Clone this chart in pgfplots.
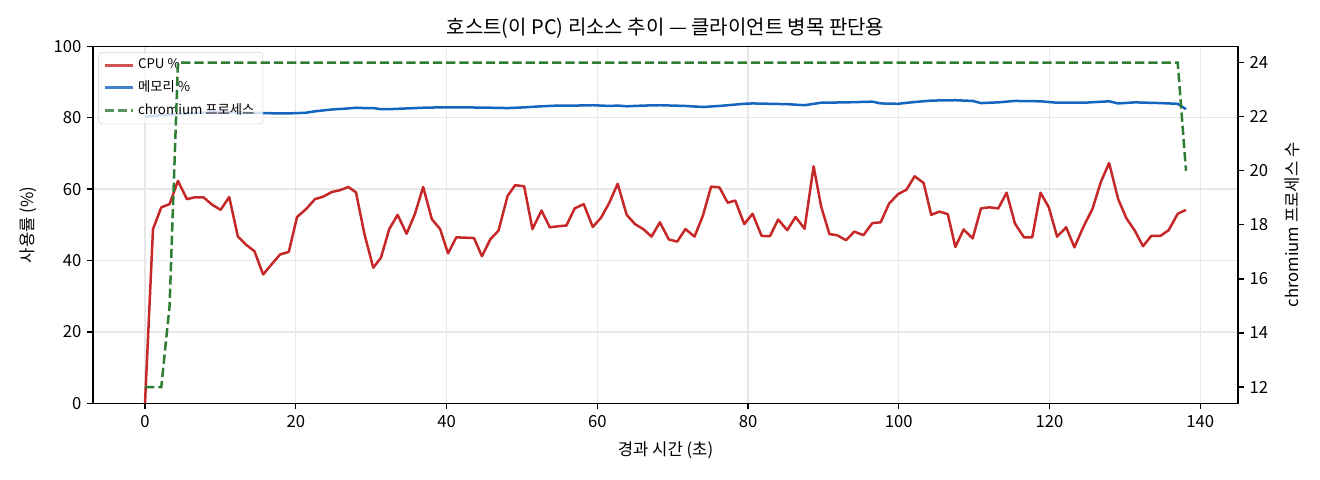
\documentclass[border=0pt]{standalone}
\usepackage{fontspec}
\setmainfont{Noto Sans CJK KR}
\usepackage{pgfplots}
\usepackage{pgfplotstable}
\pgfplotsset{compat=1.18}
\definecolor{cpuc}{HTML}{C62828}
\definecolor{memc}{HTML}{1565C0}
\definecolor{chrc}{HTML}{2E7D32}
\definecolor{gridc}{RGB}{231,231,231}
\definecolor{legc}{RGB}{204,204,204}

\pgfplotstableread{
t v
0 0
1.06 48.8
2.16 54.9
3.26 55.8
4.37 62.3
5.56 57.2
6.58 57.7
7.77 57.7
8.92 55.6
10.03 54.2
11.17 57.8
12.32 46.7
13.42 44.4
14.52 42.6
15.67 36.1
16.82 39.0
17.92 41.7
19.07 42.4
20.17 52.2
21.37 54.4
22.55 57.2
23.66 57.9
24.77 59.2
25.87 59.7
26.97 60.6
27.99 59.1
29.09 47.6
30.28 38.0
31.30 40.8
32.40 48.8
33.51 52.8
34.70 47.5
35.8 53.0
36.9 60.6
38.05 51.6
39.15 48.8
40.2 42.0
41.3 46.5
42.45 46.4
43.64 46.3
44.7 41.2
45.8 45.9
46.9 48.4
48.1 58.1
49.1 61.1
50.3 60.8
51.4 48.8
52.6 54.0
53.7 49.3
54.8 49.6
55.9 49.8
57.0 54.6
58.2 55.8
59.4 49.4
60.5 52.0
61.6 56.2
62.7 61.5
63.9 52.8
65.0 50.2
66.1 48.8
67.2 46.7
68.3 50.7
69.5 45.9
70.6 45.3
71.7 48.8
72.9 46.7
74.0 52.5
75.1 60.7
76.2 60.5
77.3 56.2
78.3 56.8
79.5 50.2
80.6 53.1
81.8 46.9
82.9 46.8
84.0 51.5
85.2 48.5
86.3 52.2
87.5 48.9
88.7 66.4
89.7 55.1
90.8 47.4
91.8 47.1
93.0 45.7
94.1 48.1
95.3 47.1
96.5 50.5
97.6 50.7
98.7 55.9
99.9 58.6
101.0 59.8
102.1 63.6
103.3 61.7
104.3 52.8
105.4 53.7
106.5 53.0
107.5 43.8
108.6 48.7
109.8 46.2
110.9 54.6
112.0 54.9
113.2 54.6
114.3 59.0
115.4 50.4
116.6 46.5
117.7 46.5
118.8 59.0
119.9 54.9
121.0 46.7
122.2 49.3
123.3 43.7
124.5 49.5
125.7 54.5
126.8 62.0
127.9 67.3
129.1 57.2
130.2 51.8
131.3 48.4
132.4 44.0
133.5 46.9
134.7 46.9
135.8 48.5
137.0 53.1
138.1 54.2
}\cputable

\pgfplotstableread{
t v
0 80.3
2.16 80.7
4.37 81.0
6.58 81.3
8.92 81.5
11.17 81.5
13.42 81.4
15.67 81.3
17.92 81.2
19.07 81.2
20.17 81.3
21.37 81.4
22.55 81.8
24.77 82.3
26.97 82.6
27.99 82.8
29.09 82.7
30.28 82.7
31.30 82.4
32.40 82.4
34.70 82.6
36.9 82.8
39.15 82.9
42.45 82.9
45.8 82.8
48.1 82.7
50.3 82.9
52.6 83.2
54.8 83.4
57.0 83.4
59.4 83.5
61.6 83.3
62.7 83.4
63.9 83.2
66.1 83.4
68.3 83.5
71.7 83.3
74.0 83.0
76.2 83.3
79.5 83.9
80.6 84.0
82.9 83.9
85.2 83.8
87.5 83.5
89.7 84.2
93.0 84.3
96.5 84.5
97.6 84.0
99.9 83.9
102.1 84.4
104.3 84.8
107.5 84.9
109.8 84.7
110.9 84.1
113.2 84.3
115.4 84.7
118.8 84.6
121.0 84.2
124.5 84.2
127.9 84.6
129.1 84.0
131.3 84.3
134.7 84.1
137.0 83.9
138.1 82.4
}\memtable

\pgfplotstableread{
t v
0 12
1.06 12
2.16 12
3.26 15
4.37 24
137.0 24
138.1 20
}\chrtable

\begin{document}
\begin{tikzpicture}
\useasboundingbox (0,0) rectangle (792pt,288pt);
\pgfplotsset{
  common/.style={
    at={(55.8pt,46.0pt)}, anchor=south west,
    scale only axis, width=687pt, height=214.2pt,
    xmin=-6.9, xmax=145,
    tick align=outside,
    major tick length=3.5pt,
    every tick/.style={black, line width=0.8pt},
    axis line style={line width=0.8pt},
    ticklabel style={font=\fontsize{10}{12}\selectfont},
    /pgf/number format/assume math mode=true,
    label style={font=\fontsize{10}{12}\selectfont},
  }
}
\begin{axis}[
  common,
  ymin=0, ymax=100,
  xtick={0,20,...,140}, ytick={0,20,...,100},
  xtick pos=bottom, ytick pos=left,
  grid=major, major grid style={gridc, line width=0.8pt},
  xlabel={경과 시간 (초)},
  ylabel={사용률 (\%)},
  every axis x label/.style={at={(axis description cs:0.5,-0.1317)}, anchor=center},
  every axis y label/.style={at={(axis description cs:-0.0568,0.5)}, anchor=center, rotate=90},
  title={호스트(이 PC) 리소스 추이 — 클라이언트 병목 판단용},
  every axis title/.style={at={(axis description cs:0.5,1.0504)}, anchor=center, font=\fontsize{12}{14}\selectfont},
  legend cell align=left,
  legend style={at={(axis description cs:0.0047,0.984)}, anchor=north west,
    font=\fontsize{8}{9.6}\selectfont, draw=legc, rounded corners=2pt,
    fill=white, fill opacity=0.8, draw opacity=0.8, text opacity=1,
    inner xsep=3pt, inner ysep=2pt, row sep=1.6pt},
]
\addplot[cpuc, line width=1.5pt, line join=round] table[x=t,y=v]{\cputable};
\addlegendentry{CPU \%}
\addplot[memc, line width=1.5pt, line join=round] table[x=t,y=v]{\memtable};
\addlegendentry{메모리 \%}
\addlegendimage{chrc, line width=1.5pt, dash pattern=on 5.55pt off 2.4pt}
\addlegendentry{chromium 프로세스}
\end{axis}
\begin{axis}[
  common,
  ymin=11.4, ymax=24.6,
  hide x axis,
  axis y line*=right,
  ytick={12,14,...,24},
  ylabel={chromium 프로세스 수},
  every axis y label/.style={at={(axis description cs:1.0472,0.5)}, anchor=center, rotate=90},
]
\addplot[chrc, line width=1.5pt, dash pattern=on 5.55pt off 2.4pt] table[x=t,y=v]{\chrtable};
\end{axis}
\end{tikzpicture}
\end{document}
